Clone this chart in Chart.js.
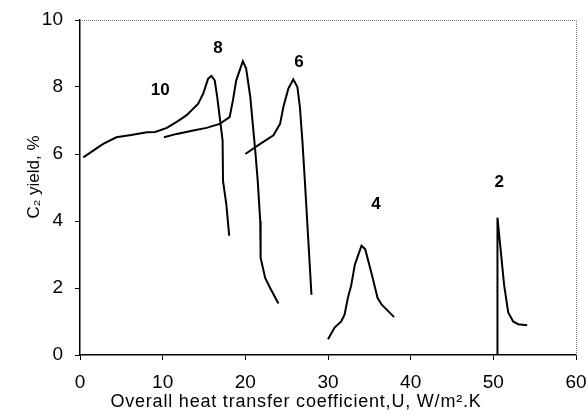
<!DOCTYPE html>
<html><head><meta charset="utf-8">
<script src="https://cdn.jsdelivr.net/npm/chart.js@4/dist/chart.umd.min.js"></script>
<style>html,body{margin:0;padding:0;background:#fff}#wrap{width:588px;height:420px}</style>
</head><body><div id="wrap"><canvas id="c" width="588" height="420"></canvas></div>
<script>
// U values and C2 yield for each curve (label = curve number)
const u10 = [0.4, 2.8, 4.4, 6.0, 8.1, 9.1, 10.5, 11.7, 12.9, 14.3, 14.9, 15.5, 15.9, 16.3, 16.6, 16.9, 17.25, 17.3, 17.7, 18.05];
const y10 = [5.9, 6.3, 6.5, 6.56, 6.65, 6.66, 6.78, 6.96, 7.16, 7.5, 7.8, 8.25, 8.33, 8.2, 7.7, 7.1, 6.4, 5.2, 4.5, 3.56];
const u8 = [10.15, 11.7, 13.7, 15.3, 16.9, 18.1, 18.5, 18.9, 19.7, 20.1, 20.6, 20.9, 21.2, 21.5, 21.8, 21.85, 22.4, 23.0, 24.0];
const y8 = [6.5, 6.6, 6.7, 6.78, 6.9, 7.1, 7.6, 8.2, 8.77, 8.55, 7.7, 6.9, 6.1, 5.2, 4.0, 2.9, 2.3, 2.0, 1.54];
const u6 = [20.0, 21.8, 23.4, 24.2, 24.6, 25.2, 25.8, 26.3, 26.6, 26.9, 27.2, 27.6, 28.0];
const y6 = [6.0, 6.3, 6.56, 6.9, 7.4, 7.95, 8.23, 8.0, 7.4, 6.4, 5.2, 3.5, 1.8];
const u4 = [30.0, 30.8, 31.6, 32.0, 32.4, 32.8, 33.25, 34.05, 34.5, 35.3, 36.0, 36.5, 38.0];
const y4 = [0.47, 0.82, 1.0, 1.2, 1.7, 2.07, 2.7, 3.26, 3.16, 2.4, 1.7, 1.5, 1.13];
const u2 = [50.5, 50.5, 50.7, 51.3, 51.8, 52.4, 53.0, 54.1];
const y2 = [0.0, 4.1, 3.6, 2.1, 1.27, 1.0, 0.92, 0.89];
const curveLabels = ['10', '8', '6', '4', '2'];
const labelU = [9.7, 16.7, 26.5, 35.8, 50.7];
const labelY = [7.9, 9.15, 8.73, 4.51, 5.14];
const xTicks = [0, 10, 20, 30, 40, 50, 60];
const yTicks = [0, 2, 4, 6, 8, 10];
const xTitle = 'Overall heat transfer coefficient,U, W/m\u00b2.K';
const yTitle = 'C\u2082 yield, %';

const FONT = "'Liberation Sans', Arial, sans-serif";
const series = [[u10,y10],[u8,y8],[u6,y6],[u4,y4],[u2,y2]];
const datasets = series.map((s,i)=>({
  label: curveLabels[i],
  data: s[0].map((u,j)=>({x:u, y:s[1][j]})),
  borderColor:'#000', borderWidth:2, pointRadius:0, tension:0, fill:false
}));

const deco = {
  id:'deco',
  afterDraw(chart){
    const ctx = chart.ctx, a = chart.chartArea, xs = chart.scales.x, ys = chart.scales.y;
    ctx.save();
    // dotted top/right frame
    ctx.strokeStyle = '#777'; ctx.lineWidth = 1; ctx.setLineDash([1,1]);
    ctx.beginPath();
    ctx.moveTo(a.left, a.top+0.5); ctx.lineTo(a.right+0.5, a.top+0.5); ctx.lineTo(a.right+0.5, a.bottom);
    ctx.stroke();
    ctx.setLineDash([]);
    // curve labels
    ctx.fillStyle = '#000'; ctx.font = "bold 17px " + FONT;
    ctx.textAlign = 'center'; ctx.textBaseline = 'middle';
    curveLabels.forEach((t,i)=>{
      ctx.fillText(t, xs.getPixelForValue(labelU[i]), ys.getPixelForValue(labelY[i]));
    });
    // x axis title
    ctx.font = "18px " + FONT;
    ctx.letterSpacing = '0.8px';
    ctx.fillText(xTitle, 296, 402);
    // y axis title
    ctx.letterSpacing = '0px';
    ctx.font = "17px " + FONT;
    ctx.translate(34, 177); ctx.rotate(-Math.PI/2);
    ctx.fillText(yTitle, 0, 0);
    ctx.restore();
  }
};

new Chart(document.getElementById('c'), {
  type:'line',
  data:{datasets},
  options:{
    responsive:false, animation:false,
    layout:{padding:{top:20,right:0,left:0,bottom:0}},
    plugins:{legend:{display:false}, tooltip:{enabled:false}},
    scales:{
      x:{type:'linear', min:0, max:60,
        afterBuildTicks(s){ s.ticks = xTicks.map(v=>({value:v})); },
        afterFit(s){ s.height = 65; s.paddingRight = 12; s.paddingLeft = 0; },
        grid:{drawOnChartArea:false, tickLength:5, color:'#000'},
        border:{color:'#000', width:1.5},
        ticks:{color:'#000', font:{family:FONT, size:19}, padding:11, maxRotation:0}
      },
      y:{min:0, max:10,
        afterBuildTicks(s){ s.ticks = yTicks.map(v=>({value:v})); },
        afterFit(s){ s.width = 80; s.paddingTop = 0; s.paddingBottom = 0; },
        grid:{drawOnChartArea:false, tickLength:5, color:'#000'},
        border:{color:'#000', width:1.5},
        ticks:{color:'#000', font:{family:FONT, size:19}, padding:12}
      }
    }
  },
  plugins:[deco]
});
</script></body></html>
